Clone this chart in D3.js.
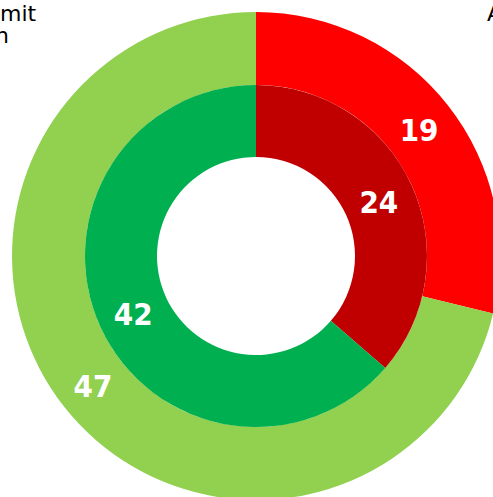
<!DOCTYPE html>
<html>
<head>
<meta charset="utf-8">
<script src="https://cdn.jsdelivr.net/npm/d3@7"></script>
<style>
  body { margin: 0; background: #fff; }
  svg { display: block; }
</style>
</head>
<body>
<div id="chartDiv"></div>
<script>
// data
var outerCats = ['Nein', 'Ja'];
var outerValues = [19, 47];
var innerCats = ['Nein', 'Ja'];
var innerValues = [24, 42];
var outerColors = ['#ff0000', '#92d050'];
var innerColors = ['#c00000', '#00b050'];

var w = 493, h = 497,
  cx = 256, cy = 256;

var svg = d3.select('#chartDiv')
  .append('svg')
    .attr('width', w)
    .attr('height', h);

var pie = d3.pie().sort(null).value(function(d) { return d; });

var outerArc = d3.arc().innerRadius(171).outerRadius(244);
var innerArc = d3.arc().innerRadius(99).outerRadius(171);

var g = svg.append('g')
  .attr('transform', 'translate(' + cx + ',' + cy + ')');

// outer ring
g.selectAll('.outer')
  .data(pie(outerValues))
  .enter().append('path')
    .attr('class', 'outer')
    .attr('d', outerArc)
    .attr('fill', function(d, i) { return outerColors[i]; });

// inner ring
g.selectAll('.inner')
  .data(pie(innerValues))
  .enter().append('path')
    .attr('class', 'inner')
    .attr('d', innerArc)
    .attr('fill', function(d, i) { return innerColors[i]; });

// labels
function addLabels(data, arc, cls) {
  g.selectAll('.' + cls)
    .data(data)
    .enter().append('text')
      .attr('class', cls)
      .attr('transform', function(d) {
        var c = arc.centroid(d);
        return 'translate(' + c[0] + ',' + (c[1] + 2) + ')';
      })
      .attr('text-anchor', 'middle')
      .attr('dy', '0.36em')
      .style('font-family', '"DejaVu Sans Condensed", "DejaVu Sans", sans-serif')
      .style('font-stretch', 'condensed')
      .style('font-weight', 'bold')
      .style('font-size', '31px')
      .style('fill', '#fff')
      .text(function(d) { return d.value; });
}
addLabels(pie(outerValues), outerArc, 'outerLbl');
addLabels(pie(innerValues), innerArc, 'innerLbl');

// cut-off legend text at the edges
var legendFont = 'DejaVu Sans, Verdana, sans-serif';
svg.append('text')
  .attr('x', 0).attr('y', 21)
  .style('font-family', legendFont).style('font-size', '22px')
  .text('mit');
svg.append('text')
  .attr('x', 9).attr('y', 43)
  .attr('text-anchor', 'end')
  .style('font-family', legendFont).style('font-size', '22px')
  .text('n');
svg.append('text')
  .attr('x', 487).attr('y', 21)
  .style('font-family', legendFont).style('font-size', '22px')
  .text('A');
</script>
</body>
</html>
